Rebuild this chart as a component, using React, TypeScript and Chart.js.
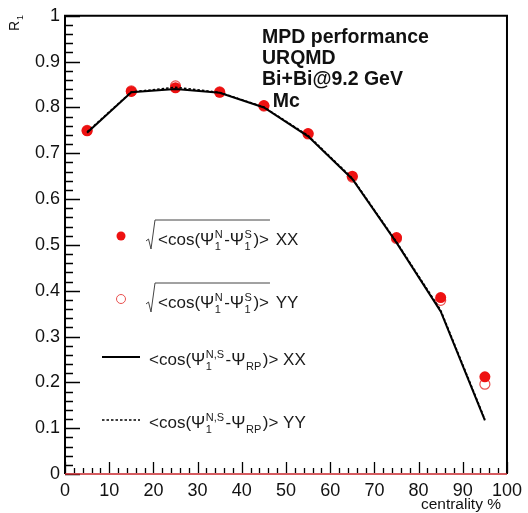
import React, { useEffect, useRef } from "react";
import { Chart, registerables } from "chart.js";

Chart.register(...registerables);

const FONT = '"Liberation Sans", Arial, Helvetica, sans-serif';

// centrality bins (%)
const centrality = [5, 15, 25, 35, 45, 55, 65, 75, 85, 95];
// sqrt(<cos(Psi1N - Psi1S)>), XX and YY
const r1SubXX = [0.749, 0.835, 0.843, 0.833, 0.804, 0.743, 0.65, 0.516, 0.385, 0.212];
const r1SubYY = [0.75, 0.836, 0.847, 0.834, 0.803, 0.742, 0.648, 0.514, 0.379, 0.196];
// <cos(Psi1NS - PsiRP)>, XX and YY
const r1RpXX = [0.745, 0.833, 0.84, 0.832, 0.8, 0.737, 0.644, 0.505, 0.355, 0.117];
const r1RpYY = [0.747, 0.834, 0.844, 0.833, 0.801, 0.739, 0.646, 0.507, 0.358, 0.12];

const xTickStep = 10;
const yTickStep = 0.1;
const infoLines = ["MPD performance", "URQMD", "Bi+Bi@9.2 GeV", "  Mc"];

const pts = (ys: number[]) => centrality.map((x, i) => ({ x, y: ys[i] }));

type Seg = { t?: string; sup?: string; sub?: string };

function drawFormula(ctx: CanvasRenderingContext2D, x: number, y: number, segs: Seg[], size: number) {
  let cx = x;
  const small = Math.round(size * 0.66);
  segs.forEach((s) => {
    if (s.t) {
      ctx.font = `${size}px ${FONT}`;
      ctx.fillText(s.t, cx, y);
      cx += ctx.measureText(s.t).width;
    }
    let w = 0;
    ctx.font = `${small}px ${FONT}`;
    if (s.sup) {
      ctx.fillText(s.sup, cx + 0.5, y - size * 0.42);
      w = Math.max(w, ctx.measureText(s.sup).width);
    }
    if (s.sub) {
      ctx.fillText(s.sub, cx + 0.5, y + size * 0.32);
      w = Math.max(w, ctx.measureText(s.sub).width);
    }
    if (w) cx += w + 2;
  });
  return cx;
}

const decorations = {
  id: "decorations",
  afterDraw(chart: any) {
    const { ctx, chartArea: a, scales } = chart;
    const xs = scales.x;
    const ys = scales.y;
    ctx.save();

    // inward tick marks
    ctx.strokeStyle = "#000";
    ctx.lineWidth = 1.3;
    ctx.beginPath();
    for (let i = 0; i <= 50; i++) {
      const v = i * 2;
      const px = Math.round(xs.getPixelForValue(v)) + 0.5;
      const len = v % 10 === 0 ? 12 : 6;
      ctx.moveTo(px, a.bottom - 1);
      ctx.lineTo(px, a.bottom - len);
    }
    for (let i = 0; i <= 50; i++) {
      const v = i * 0.02;
      const py = Math.round(ys.getPixelForValue(v)) + 0.5;
      const len = i % 5 === 0 ? 15 : 8;
      ctx.moveTo(a.left, py);
      ctx.lineTo(a.left + len, py);
    }
    ctx.stroke();

    // frame
    ctx.lineWidth = 2;
    ctx.strokeStyle = "#000";
    ctx.beginPath();
    ctx.moveTo(a.left, a.bottom);
    ctx.lineTo(a.left, a.top);
    ctx.lineTo(a.right, a.top);
    ctx.lineTo(a.right, a.bottom);
    ctx.stroke();
    ctx.strokeStyle = "#c8262b";
    ctx.lineWidth = 1.6;
    ctx.beginPath();
    ctx.moveTo(a.left, ys.getPixelForValue(0));
    ctx.lineTo(a.right, ys.getPixelForValue(0));
    ctx.stroke();

    // axis titles
    ctx.fillStyle = "#111";
    ctx.font = `15.5px ${FONT}`;
    ctx.textAlign = "right";
    ctx.textBaseline = "alphabetic";
    ctx.fillText("centrality %", 501, 509);

    ctx.save();
    ctx.translate(19, 31);
    ctx.rotate(-Math.PI / 2);
    ctx.textAlign = "left";
    ctx.font = `14px ${FONT}`;
    ctx.fillText("R", 0, 0);
    const rw = ctx.measureText("R").width;
    ctx.font = `9px ${FONT}`;
    ctx.fillText("1", rw + 1, 4);
    ctx.restore();

    // info text
    ctx.textAlign = "left";
    ctx.font = `bold 19.5px ${FONT}`;
    ctx.fillStyle = "#111";
    infoLines.forEach((s, i) => ctx.fillText(s, 262, 43 + i * 21.2));

    // legend
    const size = 17;
    const sqrtSegs: Seg[] = [{ t: "<cos(\u03A8", sup: "N", sub: "1" }, { t: "-\u03A8", sup: "S", sub: "1" }, { t: ")>" }];
    const rpSegs = (lab: string): Seg[] => [
      { t: "<cos(\u03A8", sup: "N,S", sub: "1" },
      { t: "-\u03A8", sub: "RP" },
      { t: ")> " + lab },
    ];
    const rows = [236, 299];
    const labels = ["XX", "YY"];
    rows.forEach((cy, i) => {
      // marker
      ctx.beginPath();
      ctx.arc(121, cy, 4.5, 0, Math.PI * 2);
      if (i === 0) {
        ctx.fillStyle = "#ee1111";
        ctx.fill();
      } else {
        ctx.strokeStyle = "#e8504f";
        ctx.lineWidth = 1;
        ctx.stroke();
      }
      ctx.fillStyle = "#1a1a1a";
      const end = drawFormula(ctx, 158, cy + 9, sqrtSegs, size);
      ctx.font = `${size}px ${FONT}`;
      ctx.fillText(" " + labels[i], end + 2, cy + 9);
      // radical sign
      ctx.strokeStyle = "#444";
      ctx.lineWidth = 1;
      ctx.beginPath();
      ctx.moveTo(146, cy + 5);
      ctx.lineTo(148.5, cy + 3);
      ctx.lineTo(151, cy + 13);
      ctx.lineTo(155, cy - 16);
      ctx.lineTo(end + 1, cy - 16);
      ctx.stroke();
    });

    const lineRows = [357, 420];
    lineRows.forEach((cy, i) => {
      ctx.strokeStyle = "#000";
      ctx.lineWidth = i === 0 ? 2 : 1.4;
      ctx.setLineDash(i === 0 ? [] : [2.5, 2]);
      ctx.beginPath();
      ctx.moveTo(102, cy);
      ctx.lineTo(140, cy);
      ctx.stroke();
      ctx.setLineDash([]);
      ctx.fillStyle = "#1a1a1a";
      drawFormula(ctx, 149, cy + 8, rpSegs(labels[i]), size);
    });

    ctx.restore();
  },
};

export default function App() {
  const ref = useRef<HTMLCanvasElement | null>(null);

  useEffect(() => {
    if (!ref.current) return;
    const chart = new Chart(ref.current, {
      type: "scatter",
      data: {
        datasets: [
          {
            label: "RP XX",
            data: pts(r1RpXX),
            showLine: true,
            borderColor: "#000",
            borderWidth: 2,
            pointRadius: 0,
            tension: 0,
          },
          {
            label: "RP YY",
            data: pts(r1RpYY),
            showLine: true,
            borderColor: "#000",
            borderWidth: 1.4,
            borderDash: [2.5, 2],
            pointRadius: 0,
            tension: 0,
          },
          {
            label: "sub XX",
            data: pts(r1SubXX),
            pointRadius: 5.5,
            pointBackgroundColor: "#ee1111",
            pointBorderWidth: 0,
            pointBorderColor: "#ee1111",
          },
          {
            label: "sub YY",
            data: pts(r1SubYY),
            pointRadius: 5,
            pointBackgroundColor: "rgba(255,255,255,0)",
            pointBorderColor: "#e8504f",
            pointBorderWidth: 1.2,
          },
        ],
      },
      options: {
        animation: false,
        responsive: false,
        devicePixelRatio: 1,
        layout: { padding: { left: 0, right: 18, top: 14, bottom: 0 } },
        plugins: { legend: { display: false }, tooltip: { enabled: false } },
        scales: {
          x: {
            type: "linear",
            min: 0,
            max: 100,
            grid: { display: false, drawTicks: false },
            border: { display: false },
            ticks: {
              stepSize: xTickStep,
              padding: 6,
              maxRotation: 0,
              color: "#111",
              font: { family: FONT, size: 18 },
            },
            afterFit: (s: any) => {
              s.height = 39;
            },
          },
          y: {
            type: "linear",
            min: 0,
            max: 1,
            grid: { display: false, drawTicks: false },
            border: { display: false },
            ticks: {
              stepSize: yTickStep,
              padding: 5,
              color: "#111",
              font: { family: FONT, size: 18 },
              callback: (v: any) => String(Number(Number(v).toFixed(1))),
            },
            afterFit: (s: any) => {
              s.width = 65;
            },
          },
        },
      },
      plugins: [decorations],
    });
    return () => chart.destroy();
  }, []);

  return (
    <div style={{ position: "absolute", left: 0, top: 0, width: 528, height: 513, background: "#fff" }}>
      <canvas ref={ref} width={528} height={513} style={{ width: 528, height: 513 }} />
    </div>
  );
}
